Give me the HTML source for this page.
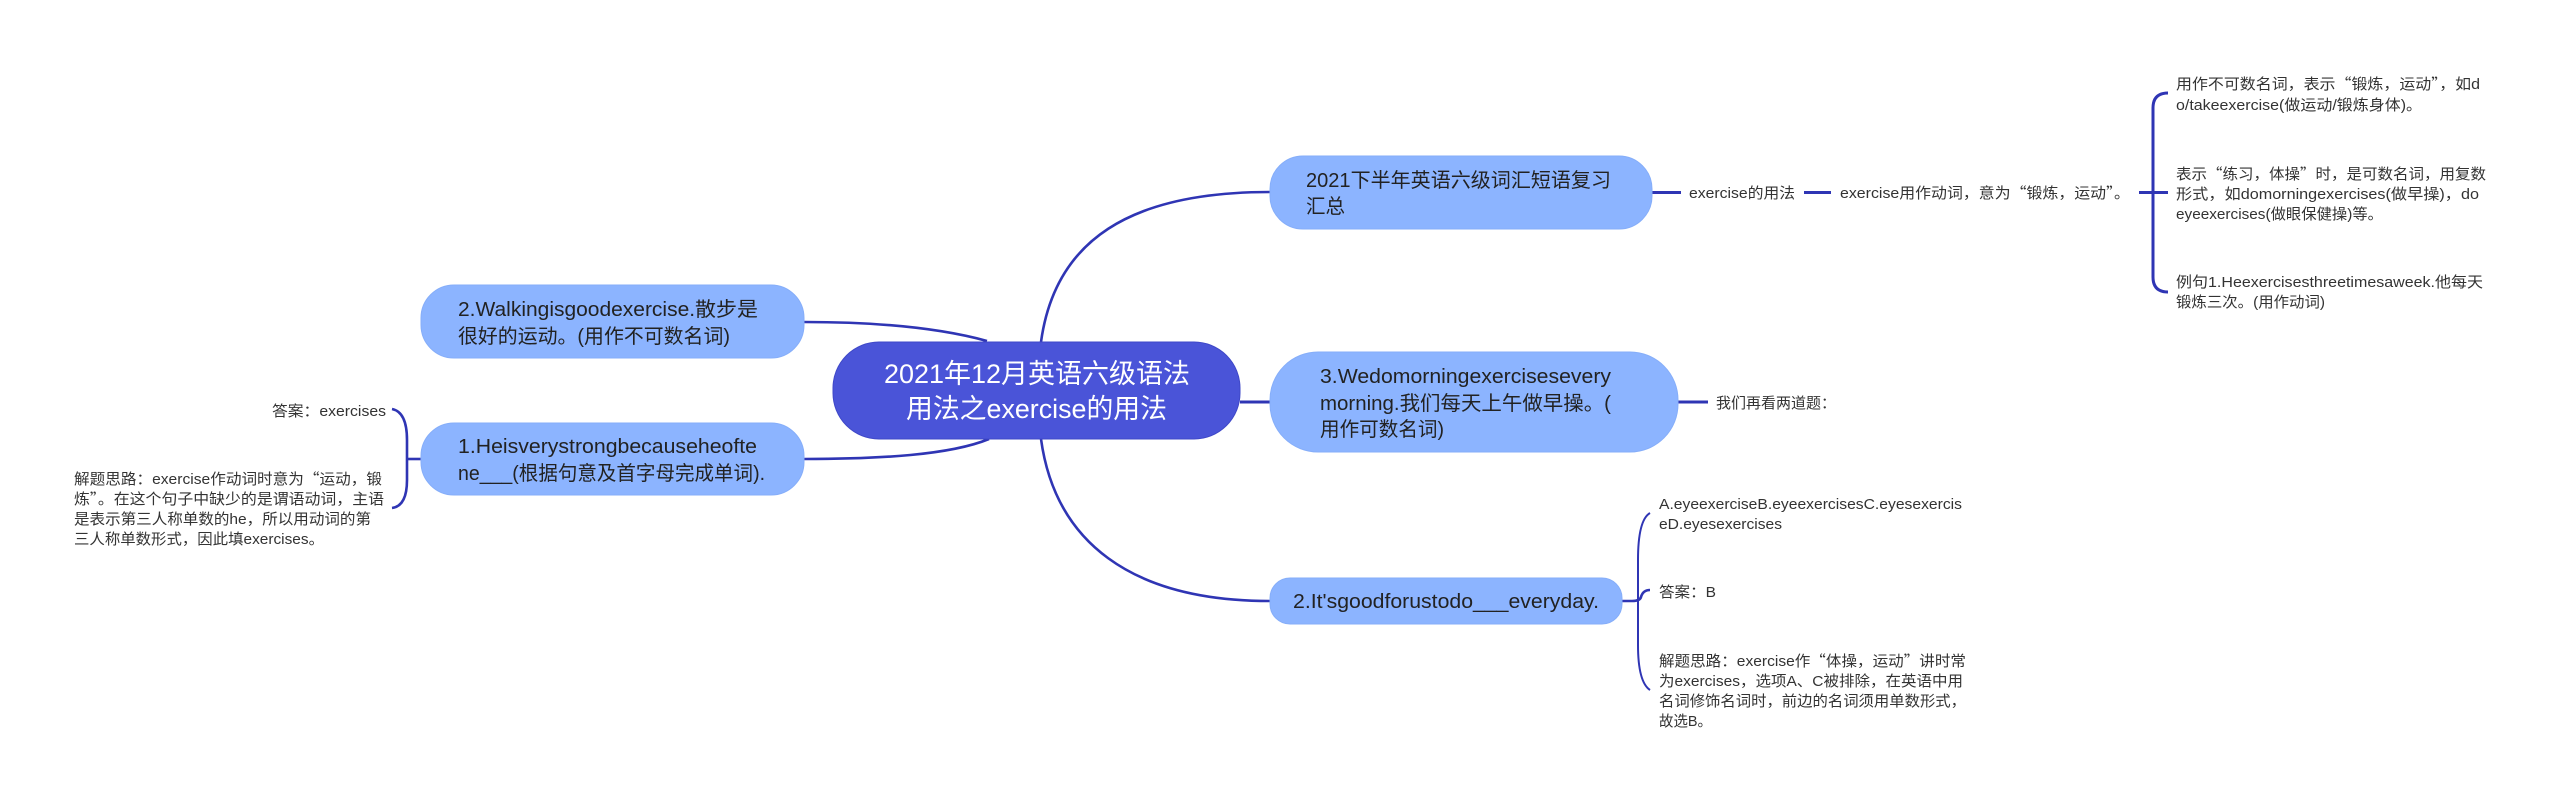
<!DOCTYPE html>
<html lang="zh">
<head>
<meta charset="utf-8">
<title>2021年12月英语六级语法用法之exercise的用法</title>
<style>
html,body{margin:0;padding:0;background:#fff;width:2560px;height:804px;overflow:hidden}
svg{display:block}
text{font-family:"Liberation Sans","Noto Sans CJK SC",sans-serif;fill:#333;white-space:pre}
.q{font-family:"Noto Sans CJK SC",sans-serif}
.n{font-size:20px;fill:#222}
.l{font-size:15px}
.r{font-size:27px;fill:#fff}
.c{fill:none;stroke:#2f35b4;stroke-width:2.6}
.t{fill:none;stroke:#2f35b4;stroke-width:3}
.b{fill:none;stroke:#2f35b4;stroke-width:2}
</style>
</head>
<body>
<svg width="2560" height="804" viewBox="0 0 2560 804" xmlns="http://www.w3.org/2000/svg">
<!-- connectors -->
<path class="c" d="M1041 342C1055 240 1130 192 1270 192"/>
<path class="c" d="M1041 439C1055 541 1130 601 1270 601"/>
<path class="c" d="M804 322C880 322 940 328 987 341"/>
<path class="c" d="M804 459C880 459 950 455 989 439"/>
<path class="t" d="M1240 402H1270"/>
<path class="t" d="M1652 192.500H1681"/>
<path class="t" d="M1804 192.500H1831"/>
<path class="t" d="M2139 192.500H2168"/>
<path class="t" d="M2168 93Q2153 93 2153 108V277Q2153 292 2168 292"/>
<path class="t" d="M1678 402H1708"/>
<path class="c" d="M1622 601H1632Q1640 601 1641 597Q1643 590 1650 590"/>
<path class="b" d="M1650 513Q1638 520 1638 560V645Q1638 682 1650 690"/>
<path class="c" d="M421 459H407"/>
<path class="c" d="M392 409Q407 412 407 440V480Q407 506 392 508"/>
<!-- nodes -->
<rect x="833" y="342" width="407" height="97" rx="46" fill="#4a54d8" stroke="#3f48c8" stroke-width="1"/>
<rect x="1270" y="156" width="382" height="73" rx="33" fill="#8cb4ff" stroke="#86aef9" stroke-width="1"/>
<rect x="1270" y="352" width="408" height="100" rx="48" fill="#8cb4ff" stroke="#86aef9" stroke-width="1"/>
<rect x="1270" y="578" width="352" height="46" rx="20" fill="#8cb4ff" stroke="#86aef9" stroke-width="1"/>
<rect x="421" y="285" width="383" height="73" rx="33" fill="#8cb4ff" stroke="#86aef9" stroke-width="1"/>
<rect x="421" y="423" width="383" height="72" rx="33" fill="#8cb4ff" stroke="#86aef9" stroke-width="1"/>
<!-- root text -->
<text class="r" x="884" y="383" textLength="306" lengthAdjust="spacingAndGlyphs">2021年12月英语六级语法</text>
<text class="r" x="906" y="418" textLength="261" lengthAdjust="spacingAndGlyphs">用法之exercise的用法</text>
<!-- branch text -->
<text class="n" x="1306" y="187" textLength="305" lengthAdjust="spacingAndGlyphs">2021下半年英语六级词汇短语复习</text>
<text class="n" x="1306" y="213" textLength="39" lengthAdjust="spacingAndGlyphs">汇总</text>
<text class="n" x="1320" y="383" textLength="291" lengthAdjust="spacingAndGlyphs">3.Wedomorningexercisesevery</text>
<text class="n" x="1320" y="410" textLength="291" lengthAdjust="spacingAndGlyphs">morning.我们每天上午做早操。(</text>
<text class="n" x="1320" y="436" textLength="124" lengthAdjust="spacingAndGlyphs">用作可数名词)</text>
<text class="n" x="1293" y="608" textLength="306" lengthAdjust="spacingAndGlyphs">2.It'sgoodforustodo___everyday.</text>
<text class="n" x="458" y="316" textLength="300" lengthAdjust="spacingAndGlyphs">2.Walkingisgoodexercise.散步是</text>
<text class="n" x="458" y="343" textLength="272" lengthAdjust="spacingAndGlyphs">很好的运动。(用作不可数名词)</text>
<text class="n" x="458" y="453" textLength="299" lengthAdjust="spacingAndGlyphs">1.Heisverystrongbecauseheofte</text>
<text class="n" x="458" y="480" textLength="307" lengthAdjust="spacingAndGlyphs">ne___(根据句意及首字母完成单词).</text>
<!-- right leaves -->
<text class="l" x="1689" y="198" textLength="106" lengthAdjust="spacingAndGlyphs">exercise的用法</text>
<text class="l" x="1840" y="198" textLength="290" lengthAdjust="spacingAndGlyphs">exercise用作动词，意为<tspan class="q">“</tspan>锻炼，运动<tspan class="q">”</tspan>。</text>
<text class="l" x="2176" y="89" textLength="304" lengthAdjust="spacingAndGlyphs">用作不可数名词，表示<tspan class="q">“</tspan>锻炼，运动<tspan class="q">”</tspan>，如d</text>
<text class="l" x="2176" y="110" textLength="246" lengthAdjust="spacingAndGlyphs">o/takeexercise(做运动/锻炼身体)。</text>
<text class="l" x="2176" y="179" textLength="310" lengthAdjust="spacingAndGlyphs">表示<tspan class="q">“</tspan>练习，体操<tspan class="q">”</tspan>时，是可数名词，用复数</text>
<text class="l" x="2176" y="199" textLength="303" lengthAdjust="spacingAndGlyphs">形式，如domorningexercises(做早操)，do</text>
<text class="l" x="2176" y="219" textLength="207" lengthAdjust="spacingAndGlyphs">eyeexercises(做眼保健操)等。</text>
<text class="l" x="2176" y="287" textLength="307" lengthAdjust="spacingAndGlyphs">例句1.Heexercisesthreetimesaweek.他每天</text>
<text class="l" x="2176" y="307" textLength="149" lengthAdjust="spacingAndGlyphs">锻炼三次。(用作动词)</text>
<text class="l" x="1716" y="408" textLength="120" lengthAdjust="spacingAndGlyphs">我们再看两道题：</text>
<text class="l" x="1659" y="509" textLength="303" lengthAdjust="spacingAndGlyphs">A.eyeexerciseB.eyeexercisesC.eyesexercis</text>
<text class="l" x="1659" y="529" textLength="123" lengthAdjust="spacingAndGlyphs">eD.eyesexercises</text>
<text class="l" x="1659" y="597" textLength="57" lengthAdjust="spacingAndGlyphs">答案：B</text>
<text class="l" x="1659" y="666" textLength="307" lengthAdjust="spacingAndGlyphs">解题思路：exercise作<tspan class="q">“</tspan>体操，运动<tspan class="q">”</tspan>讲时常</text>
<text class="l" x="1659" y="686" textLength="304" lengthAdjust="spacingAndGlyphs">为exercises，选项A、C被排除，在英语中用</text>
<text class="l" x="1659" y="706" textLength="307" lengthAdjust="spacingAndGlyphs">名词修饰名词时，前边的名词须用单数形式，</text>
<text class="l" x="1659" y="726" textLength="53" lengthAdjust="spacingAndGlyphs">故选B。</text>
<!-- left leaves -->
<text class="l" x="272" y="416" textLength="114" lengthAdjust="spacingAndGlyphs">答案：exercises</text>
<text class="l" x="74" y="484" textLength="308" lengthAdjust="spacingAndGlyphs">解题思路：exercise作动词时意为<tspan class="q">“</tspan>运动，锻</text>
<text class="l" x="74" y="504" textLength="310" lengthAdjust="spacingAndGlyphs">炼<tspan class="q">”</tspan>。在这个句子中缺少的是谓语动词，主语</text>
<text class="l" x="74" y="524" textLength="297" lengthAdjust="spacingAndGlyphs">是表示第三人称单数的he，所以用动词的第</text>
<text class="l" x="74" y="544" textLength="250" lengthAdjust="spacingAndGlyphs">三人称单数形式，因此填exercises。</text>
</svg>
</body>
</html>
